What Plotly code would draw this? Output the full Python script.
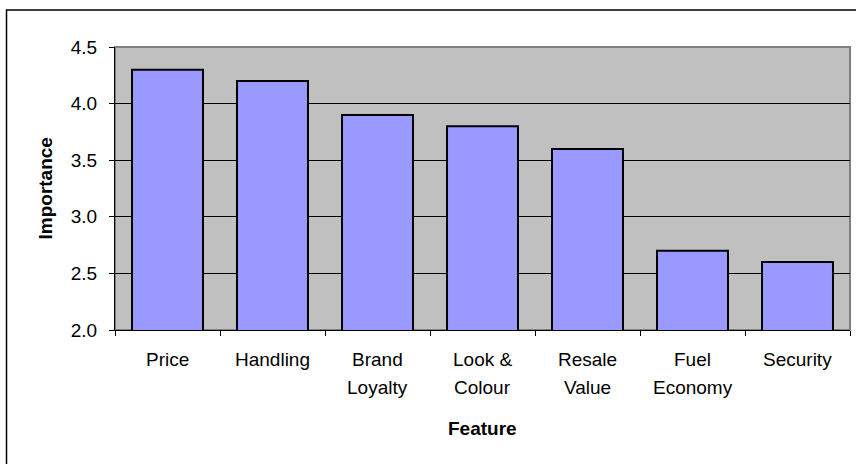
import plotly.graph_objects as go

categories = ["Price", "Handling", "Brand Loyalty", "Look & Colour", "Resale Value", "Fuel Economy", "Security"]
label_lines = [["Price"], ["Handling"], ["Brand", "Loyalty"], ["Look &", "Colour"],
               ["Resale", "Value"], ["Fuel", "Economy"], ["Security"]]
importance = [4.3, 4.2, 3.9, 3.8, 3.6, 2.7, 2.6]
y_ticks = [2.0, 2.5, 3.0, 3.5, 4.0, 4.5]

FONT = "Liberation Sans, Arial, sans-serif"
FS = 19

fig = go.Figure()
fig.add_trace(go.Bar(
    x=categories, y=importance,
    marker=dict(color="#9999FF", line=dict(color="black", width=2)),
))

annotations = []
for cat, lines in zip(categories, label_lines):
    for i, ln in enumerate(lines):
        annotations.append(dict(
            x=cat, xref="x", y=0, yref="paper", yanchor="middle", xanchor="center",
            yshift=-29 - 28 * i, text=ln, showarrow=False,
            font=dict(family=FONT, size=FS, color="black")))
annotations.append(dict(x=0.5, xref="paper", y=0, yref="paper", yshift=-98,
                        yanchor="middle", xanchor="center", text="<b>Feature</b>",
                        showarrow=False, font=dict(family=FONT, size=FS, color="black")))
annotations.append(dict(x=0, xref="paper", xshift=-70, y=0.5, yref="paper",
                        yanchor="middle", xanchor="center", text="<b>Importance</b>",
                        textangle=-90, showarrow=False,
                        font=dict(family=FONT, size=FS, color="black")))

fig.update_layout(
    width=856, height=464,
    margin=dict(l=115, r=6, t=47, b=134, autoexpand=False),
    paper_bgcolor="white", plot_bgcolor="#C0C0C0",
    bargap=0.324, showlegend=False,
    font=dict(family=FONT, size=FS, color="black"),
    annotations=annotations,
    shapes=[
        dict(type="rect", xref="paper", yref="paper", x0=0, x1=1, y0=0, y1=1,
             line=dict(color="#808080", width=2), layer="below"),
        dict(type="rect", xref="paper", yref="paper", x0=-0.1476, x1=1.2, y0=-0.7, y1=1.1307,
             line=dict(color="black", width=1.5), fillcolor="rgba(0,0,0,0)", layer="below"),
    ],
)
fig.update_xaxes(
    showticklabels=False, showgrid=False, showline=True, linecolor="black", linewidth=1,
    ticks="outside", tickson="boundaries", ticklen=5, tickcolor="black", tickwidth=1,
    fixedrange=True,
)
fig.update_yaxes(
    range=[2, 4.5], tickvals=y_ticks, tickformat=".1f",
    showgrid=True, gridcolor="black", gridwidth=1, zeroline=False,
    showline=True, linecolor="black", linewidth=1,
    ticks="outside", ticklen=5, tickcolor="black", tickwidth=1,
    ticklabelstandoff=8, tickfont=dict(family=FONT, size=FS, color="black"),
    fixedrange=True,
)

fig.write_html("out.html", config={"displayModeBar": False})
